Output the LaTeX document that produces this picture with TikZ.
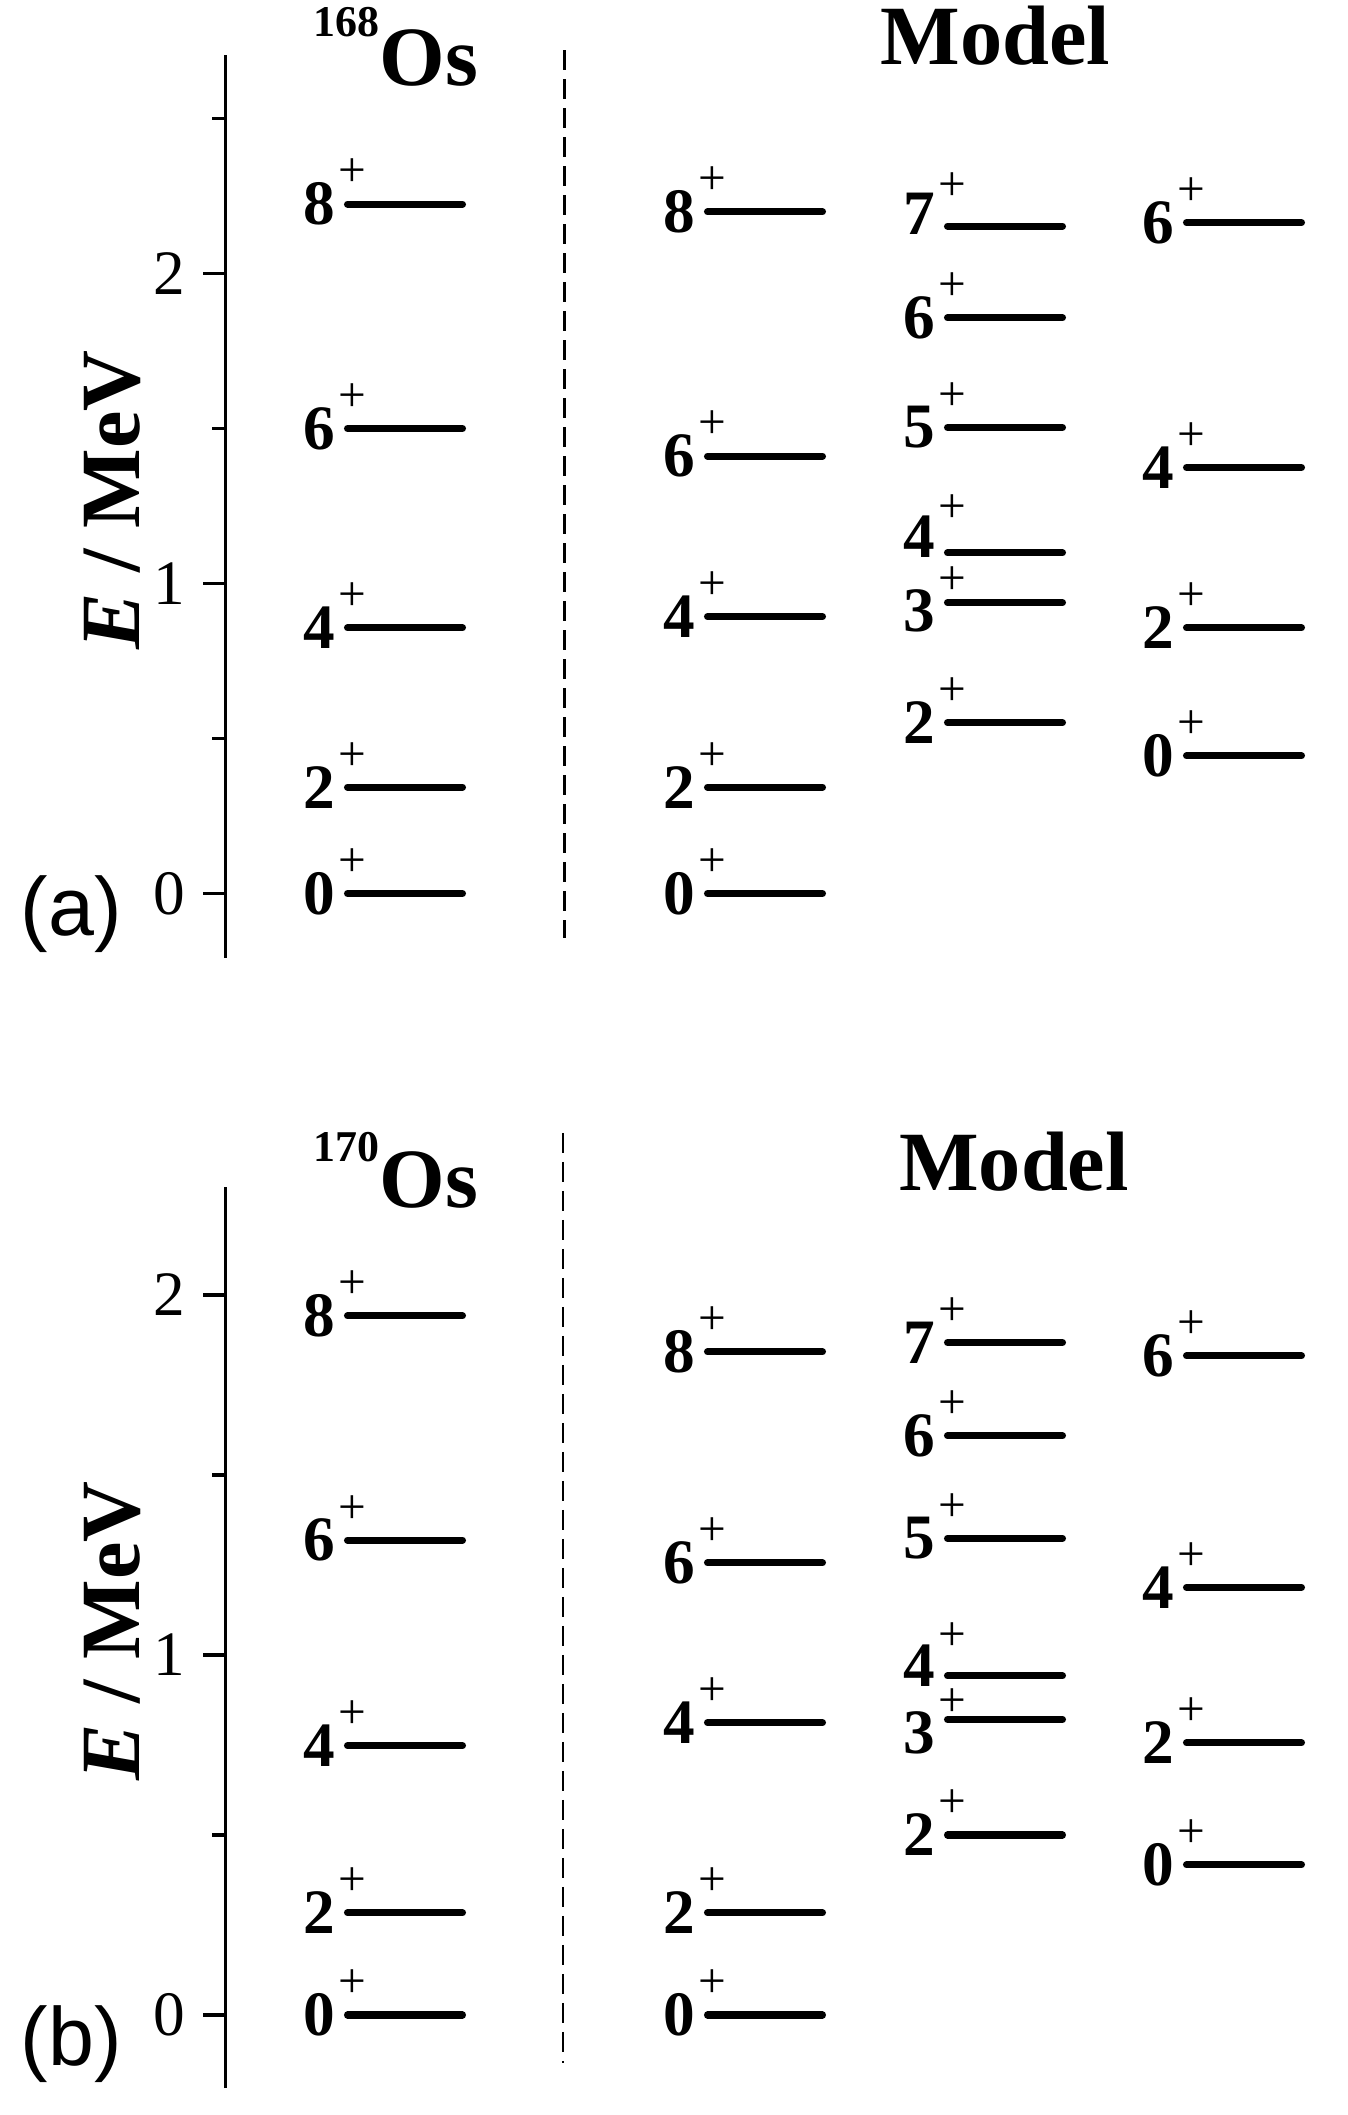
\documentclass[tikz,border=0pt]{standalone}
\usepackage{fontspec}
\setmainfont{Liberation Serif}
\newfontfamily\panelfont{Liberation Sans}
\usetikzlibrary{positioning}

\begin{document}
\begin{tikzpicture}[
    lvl/.style={line width=2pt, line cap=round},
    axisline/.style={line width=1pt},
    divider/.style={line width=0.7pt, dash pattern=on 0.2cm off 0.09cm},
    spin/.style={inner sep=0pt, font=\fontsize{18}{18}\selectfont\bfseries},
    parity/.style={inner sep=0pt, font=\fontsize{14}{14}\selectfont},
    ticklabel/.style={inner sep=0pt, font=\fontsize{18}{18}\selectfont},
    title/.style={inner sep=0pt, font=\fontsize{24}{24}\selectfont\bfseries},
    ylabel/.style={inner sep=0pt, rotate=90, anchor=base, font=\fontsize{24}{24}\selectfont\bfseries},
    panel/.style={inner sep=0pt, anchor=base west, font=\fontsize{23.5}{23.5}\selectfont\panelfont},
    % labels nudged apart where levels lie close
    a-m2-7-s/.style={yshift=1.2mm}, a-m2-7-p/.style={yshift=0.8mm},
    a-m2-4-s/.style={yshift=1.6mm}, a-m2-4-p/.style={yshift=1.3mm},
    a-m2-3-s/.style={yshift=-0.8mm}, a-m2-3-p/.style={yshift=-0.9mm},
    b-m2-4-s/.style={yshift=1.0mm}, b-m2-4-p/.style={yshift=0.8mm},
    b-m2-3-s/.style={yshift=-1.3mm}, b-m2-3-p/.style={yshift=-1.4mm}]
  \useasboundingbox (0,0) rectangle (13.48,21.15);

  % (a) 168Os
  \node[title, anchor=base west] (a-nuc) at (3.13,20.29) {\raisebox{4.9mm}{\fontsize{12.5}{12.5}\selectfont 168}Os};
  \node[title, anchor=base] (a-model) at (9.955,20.50) {Model};
  \node[ylabel] (a-ylab) at (1.40,16.15) {\textit{E} / MeV};
  \node[panel] (a-tag) at (0.20,11.79) {(a)};
  \begin{scope}[yshift=12.215cm, y=3.1cm]
    \draw[axisline] (2.253,-0.208) coordinate (a-bot) -- (2.253,2.705) coordinate (a-top);
    \foreach \t in {0,1,2}
      \draw[axisline] (2.253,\t) -- ++(-0.22,0) node[ticklabel, left=1.6mm] (a-tick-\t) {\t};
    \foreach \t in {0.5,1.5,2.5}
      \draw[axisline] (2.253,\t) -- ++(-0.13,0);
    \draw[divider] (5.645,2.72) coordinate (a-div-top) -- (5.645,-0.144) coordinate (a-div-bot);
    \foreach \col/\xs/\lst in {exp/3.475/{0/0,2/0.343,4/0.857,6/1.500,8/2.224},
        m1/7.075/{0/0,2/0.343,4/0.893,6/1.411,8/2.199},
        m2/9.475/{2/0.551,3/0.938,4/1.099,5/1.503,6/1.857,7/2.153},
        m3/11.865/{0/0.444,2/0.857,4/1.374,6/2.164}}
      \foreach \J/\E in \lst {
        \draw[lvl] (\xs,\E) coordinate (a-\col-\J) -- ++(1.15,0);
        \node[spin, left=1.2mm of a-\col-\J, a-\col-\J-s/.try] (a-\col-\J-s) {\J};
        \node[parity, a-\col-\J-p/.try] (a-\col-\J-p) at ([xshift=0.5mm, yshift=3.1mm]a-\col-\J) {+};
      }
  \end{scope}

  % (b) 170Os
  \node[title, anchor=base west] (b-nuc) at (3.13,9.07) {\raisebox{4.6mm}{\fontsize{12.5}{12.5}\selectfont 170}Os};
  \node[title, anchor=base] (b-model) at (10.14,9.24) {Model};
  \node[ylabel] (b-ylab) at (1.40,4.84) {\textit{E} / MeV};
  \node[panel] (b-tag) at (0.20,0.49) {(b)};
  \begin{scope}[yshift=1.0cm, y=3.6cm]
    \draw[axisline] (2.253,-0.203) coordinate (b-bot) -- (2.253,2.30) coordinate (b-top);
    \foreach \t in {0,1,2}
      \draw[axisline] (2.253,\t) -- ++(-0.22,0) node[ticklabel, left=1.6mm] (b-tick-\t) {\t};
    \foreach \t in {0.5,1.5}
      \draw[axisline] (2.253,\t) -- ++(-0.13,0);
    \draw[divider] (5.63,2.45) coordinate (b-div-top) -- (5.63,-0.134) coordinate (b-div-bot);
    \foreach \col/\xs/\lst in {exp/3.475/{0/0,2/0.284,4/0.748,6/1.319,8/1.942},
        m1/7.075/{0/0,2/0.284,4/0.812,6/1.256,8/1.842},
        m2/9.475/{2/0.500,3/0.821,4/0.942,5/1.324,6/1.609,7/1.868},
        m3/11.865/{0/0.417,2/0.756,4/1.188,6/1.831}}
      \foreach \J/\E in \lst {
        \draw[lvl] (\xs,\E) coordinate (b-\col-\J) -- ++(1.15,0);
        \node[spin, left=1.2mm of b-\col-\J, b-\col-\J-s/.try] (b-\col-\J-s) {\J};
        \node[parity, b-\col-\J-p/.try] (b-\col-\J-p) at ([xshift=0.5mm, yshift=3.1mm]b-\col-\J) {+};
      }
  \end{scope}
\end{tikzpicture}
\end{document}
